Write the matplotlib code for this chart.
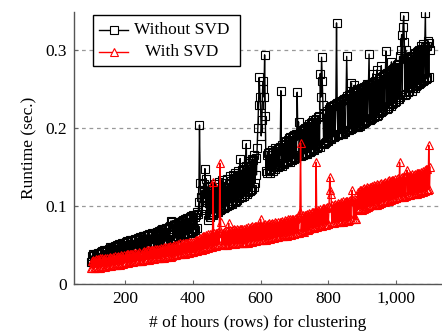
import matplotlib
matplotlib.use("Agg")
import matplotlib.pyplot as plt
from matplotlib.lines import Line2D
from matplotlib.patches import Rectangle

plt.rcParams['font.family'] = ['Liberation Serif', 'DejaVu Serif']

# runtimes in milliseconds, read every 2 hours from 100 to 1100
without_svd_ms = [
    28, 36, 30, 38, 29, 37, 31, 39, 30, 38, 32, 40, 31, 39, 33, 41, 32, 42, 33, 43, 34, 42, 33, 44, 35,
    34, 45, 36, 47, 35, 46, 37, 48, 36, 47, 38, 49, 37, 50, 39, 49, 38, 51, 40, 50, 39, 52, 41, 53, 40,
    42, 54, 41, 55, 43, 54, 42, 56, 44, 55, 43, 57, 45, 56, 44, 58, 46, 57, 45, 59, 47, 58, 46, 60, 47,
    47, 61, 48, 62, 49, 61, 48, 63, 50, 62, 49, 64, 51, 63, 50, 65, 52, 64, 51, 66, 53, 65, 52, 67, 53,
    53, 68, 54, 69, 55, 70, 54, 71, 56, 70, 55, 72, 57, 71, 56, 73, 58, 75, 81, 80, 74, 57, 75, 58, 76,
    59, 77, 61, 78, 60, 79, 62, 80, 61, 81, 63, 82, 62, 83, 64, 84, 63, 85, 65, 84, 66, 86, 65, 87, 67,
    68, 88, 70, 86, 69, 89, 72, 92, 90, 105, 204, 130, 112, 95, 120, 100, 128, 110, 148, 98, 135, 118, 82, 125, 88,
    126, 86, 118, 90, 122, 88, 115, 92, 128, 91, 120, 94, 125, 93, 131, 95, 118, 96, 133, 98, 124, 97, 130, 99, 121,
    100, 135, 102, 128, 101, 138, 104, 132, 103, 140, 106, 136, 105, 142, 107, 138, 108, 145, 110, 140, 161, 112, 146, 111, 150,
    113, 148, 115, 152, 180, 116, 155, 118, 150, 119, 158, 121, 160, 122, 159, 124, 165, 130, 162, 140, 175, 200, 230, 265, 240,
    230, 190, 210, 250, 260, 240, 294, 215, 145, 165, 142, 168, 146, 170, 143, 166, 148, 172, 145, 169, 150, 174, 147, 171, 152,
    173, 150, 175, 153, 176, 248, 152, 178, 155, 180, 154, 182, 157, 184, 156, 185, 158, 187, 157, 188, 160, 189, 159, 190, 161,
    191, 162, 193, 163, 246, 192, 208, 165, 194, 164, 196, 166, 197, 165, 199, 167, 200, 168, 202, 167, 203, 169, 205, 170, 206,
    171, 208, 173, 210, 172, 211, 174, 212, 175, 214, 177, 215, 176, 270, 240, 291, 260, 230, 179, 218, 181, 220, 182, 222, 184,
    185, 225, 187, 227, 186, 228, 188, 229, 189, 230, 190, 231, 335, 232, 191, 233, 192, 234, 193, 235, 194, 236, 193, 237, 195,
    196, 239, 292, 241, 197, 243, 198, 244, 199, 258, 200, 246, 201, 255, 202, 247, 203, 248, 202, 249, 204, 250, 203, 251, 205,
    206, 252, 207, 253, 208, 254, 209, 256, 210, 255, 295, 211, 257, 212, 258, 213, 270, 214, 260, 215, 261, 216, 275, 217, 263,
    220, 265, 221, 280, 222, 267, 223, 268, 224, 270, 299, 225, 271, 226, 272, 228, 273, 229, 285, 231, 276, 232, 277, 233, 279,
    235, 281, 237, 282, 238, 292, 240, 300, 320, 242, 330, 344, 310, 243, 300, 244, 289, 246, 290, 247, 291, 252, 292, 248, 293,
    251, 295, 252, 296, 254, 298, 255, 299, 256, 300, 258, 305, 259, 302, 260, 308, 262, 304, 348, 263, 306, 264, 312, 265, 309,
    300,
]

with_svd_ms = [
    20, 30, 21, 31, 20, 30, 21, 32, 22, 31, 21, 32, 22, 33, 21, 32, 22, 33, 23, 32, 22, 34, 23, 33, 23,
    23, 34, 24, 35, 23, 34, 24, 35, 25, 34, 24, 36, 25, 35, 25, 36, 26, 35, 25, 37, 26, 36, 26, 37, 27,
    27, 37, 28, 38, 27, 38, 28, 39, 28, 38, 29, 39, 28, 40, 29, 39, 29, 40, 30, 39, 29, 41, 30, 40, 30,
    30, 41, 31, 42, 31, 41, 31, 43, 32, 42, 31, 43, 32, 44, 32, 43, 33, 44, 32, 45, 33, 44, 33, 45, 33,
    33, 45, 34, 46, 34, 45, 35, 47, 34, 46, 35, 48, 35, 47, 36, 48, 36, 49, 35, 48, 36, 49, 37, 50, 37,
    37, 50, 38, 51, 38, 50, 39, 52, 38, 51, 39, 52, 40, 53, 39, 52, 40, 53, 41, 54, 40, 53, 41, 54, 41,
    41, 54, 42, 55, 43, 56, 42, 57, 44, 58, 43, 59, 45, 60, 44, 61, 46, 62, 45, 63, 47, 62, 46, 64, 48,
    48, 64, 49, 65, 48, 131, 49, 65, 50, 66, 49, 66, 50, 67, 51, 155, 80, 67, 51, 66, 50, 67, 51, 68, 50,
    50, 68, 51, 78, 51, 69, 52, 68, 51, 69, 52, 70, 51, 69, 52, 70, 53, 69, 52, 71, 53, 70, 52, 71, 53,
    52, 71, 53, 72, 54, 71, 53, 73, 54, 72, 55, 73, 54, 74, 55, 73, 56, 74, 55, 75, 56, 74, 56, 75, 56,
    83, 75, 57, 76, 57, 75, 58, 77, 57, 76, 58, 77, 59, 78, 58, 77, 59, 78, 60, 77, 59, 79, 60, 78, 60,
    60, 79, 61, 80, 61, 79, 62, 81, 61, 80, 62, 82, 63, 81, 62, 83, 63, 82, 64, 84, 63, 83, 64, 84, 64,
    64, 84, 65, 85, 66, 86, 65, 87, 92, 181, 67, 86, 68, 88, 67, 89, 69, 88, 70, 90, 69, 91, 71, 90, 72,
    72, 92, 73, 93, 72, 94, 74, 156, 73, 95, 75, 94, 74, 96, 76, 95, 75, 97, 76, 98, 77, 97, 76, 99, 77,
    77, 100, 137, 120, 115, 78, 101, 79, 102, 78, 103, 79, 102, 80, 104, 79, 103, 80, 105, 81, 104, 80, 106, 81, 105,
    81, 106, 82, 107, 81, 106, 82, 108, 83, 107, 120, 108, 83, 107, 84, 108, 83, 109, 95, 118, 96, 120, 97, 121, 98,
    95, 122, 96, 123, 97, 122, 98, 124, 99, 123, 100, 125, 101, 124, 102, 126, 101, 127, 102, 126, 103, 128, 102, 127, 103,
    103, 128, 104, 129, 105, 128, 106, 130, 105, 131, 107, 130, 108, 132, 107, 133, 109, 132, 108, 134, 110, 133, 109, 135, 110,
    110, 135, 111, 136, 112, 156, 111, 136, 112, 137, 113, 138, 112, 137, 113, 139, 146, 114, 138, 115, 140, 114, 139, 115, 141,
    115, 140, 116, 141, 117, 142, 116, 143, 118, 142, 117, 144, 119, 143, 118, 145, 120, 146, 119, 147, 120, 148, 121, 178, 122,
    150,
]

assert len(without_svd_ms) == 501, len(without_svd_ms)
assert len(with_svd_ms) == 501, len(with_svd_ms)

hours = list(range(100, 1101, 2))
without_svd = [v / 1000 for v in without_svd_ms]
with_svd = [v / 1000 for v in with_svd_ms]

x_ticks = [200, 400, 600, 800, 1000]
x_tick_labels = ["200", "400", "600", "800", "1,000"]
y_ticks = [0, 0.1, 0.2, 0.3]
y_tick_labels = ["0", "0.1", "0.2", "0.3"]
series_labels = ["Without SVD", "With SVD"]

W, H = 442, 335
fig = plt.figure(figsize=(W / 100, H / 100), dpi=100)
ax = fig.add_axes([74 / W, 51 / H, (442 - 74) / W, 272 / H])

fs = 12.5
ax.plot(hours, without_svd, color='black', lw=1.0, marker='s', ms=5.2,
        mfc='none', mec='black', mew=0.8, zorder=3)
ax.plot(hours, with_svd, color='red', lw=1.0, marker='^', ms=5.2,
        mfc='none', mec='red', mew=0.8, zorder=4)

ax.set_xlim(50, 1135)
ax.set_ylim(0, 0.349)
ax.set_xticks(x_ticks)
ax.set_xticklabels(x_tick_labels)
ax.set_yticks(y_ticks)
ax.set_yticklabels(y_tick_labels)
ax.tick_params(direction='in', length=3, width=0.8, color='#666666',
               labelsize=fs, pad=5)
for s in ['top', 'right']:
    ax.spines[s].set_visible(False)
for s in ['left', 'bottom']:
    ax.spines[s].set_color('#555555')
    ax.spines[s].set_linewidth(1.0)
ax.yaxis.grid(True, linestyle=(0, (3, 3)), color='#999999', lw=0.9)
ax.set_axisbelow(True)

ax.set_xlabel("# of hours (rows) for clustering", fontsize=fs, labelpad=6)
ax.set_ylabel("Runtime (sec.)", fontsize=fs, labelpad=6)

# manual legend (text centred as in the reference)
def px2ax(px, py):
    return ((px - 74) / (442 - 74), (284 - py) / 272)

x0, y0 = px2ax(93, 66)
x1, y1 = px2ax(240, 15)
ax.add_patch(Rectangle((x0, y0), x1 - x0, y1 - y0, transform=ax.transAxes,
                       facecolor='white', edgecolor='black', lw=1.0, zorder=10))
rows = [(29.5, 'black', 's'), (51.5, 'red', '^')]
for (py, col, mk), lab in zip(rows, series_labels):
    lx0, ly = px2ax(99, py)
    lx1, _ = px2ax(128, py)
    ax.add_line(Line2D([lx0, lx1], [ly, ly], transform=ax.transAxes, color=col,
                       lw=1.0, zorder=11))
    ax.add_line(Line2D([(lx0 + lx1) / 2], [ly], transform=ax.transAxes, color=col,
                       marker=mk, ms=5.2, mfc='white', mec=col, mew=0.8, zorder=12))
    tx, _ = px2ax(182, py)
    ax.text(tx, ly, lab, transform=ax.transAxes, ha='center', va='center',
            fontsize=fs, zorder=12)

fig.savefig("out.png", dpi=100)
